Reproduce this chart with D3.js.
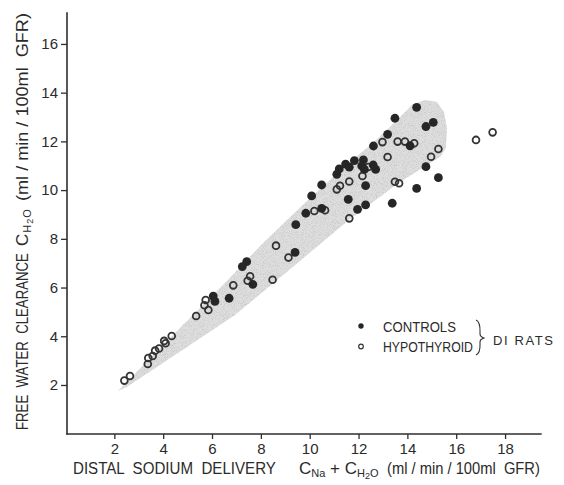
<!DOCTYPE html>
<html>
<head>
<meta charset="utf-8">
<script src="https://cdn.jsdelivr.net/npm/d3@7"></script>
<style>
  html, body { margin: 0; padding: 0; background: #fff; }
  svg { display: block; }
  text { font-family: "Liberation Sans", Arial, sans-serif; fill: #2b2b2b; white-space: pre; }
</style>
</head>
<body>
<svg id="chart" width="564" height="485"></svg>
<script>
// ---- data ----
const xTicks = [2, 4, 6, 8, 10, 12, 14, 16, 18];
const yTicks = [2, 4, 6, 8, 10, 12, 14, 16];

// Controls (filled circles): [distal Na delivery, free water clearance]
const controlsX = [6.05, 6.12, 6.70, 7.42, 7.24, 7.67, 9.40, 9.43, 9.84, 10.08, 10.49, 10.49,
  11.11, 11.21, 11.47, 11.62, 11.83, 12.20, 12.13, 12.24, 12.60, 12.70, 12.29, 11.58, 11.96,
  12.29, 12.61, 13.19, 13.49, 14.11, 14.38, 14.76, 15.06, 14.76, 15.27, 14.38, 13.38];
const controlsY = [5.65, 5.43, 5.56, 7.06, 6.86, 6.13, 7.44, 8.58, 9.05, 9.76, 10.21, 9.25,
  10.65, 10.87, 11.07, 10.94, 11.21, 11.24, 10.99, 10.85, 11.03, 10.85, 10.18, 9.62, 9.21,
  9.39, 11.81, 12.29, 12.95, 11.82, 13.40, 12.61, 12.78, 10.96, 10.51, 10.07, 9.46];

// Hypothyroid (open circles)
const hypoX = [2.41, 2.64, 3.37, 3.39, 3.57, 3.67, 3.83, 4.04, 4.10, 4.35, 5.35, 5.74, 5.69,
  5.85, 6.87, 7.56, 7.46, 8.48, 8.62, 9.13, 10.19, 10.63, 11.11, 11.24, 11.62, 12.16, 12.40,
  11.62, 13.19, 12.98, 13.60, 13.90, 14.28, 13.49, 13.66, 15.27, 14.97, 16.81, 17.49];
const hypoY = [2.18, 2.37, 2.86, 3.11, 3.19, 3.41, 3.50, 3.81, 3.71, 4.01, 4.83, 5.49, 5.27,
  5.08, 6.09, 6.46, 6.28, 6.32, 7.72, 7.23, 9.14, 9.17, 10.03, 10.18, 10.35, 10.58, 10.95,
  8.84, 11.36, 11.97, 11.99, 11.99, 11.92, 10.34, 10.28, 11.69, 11.37, 12.06, 12.37];

// Shaded envelope outline (data units)
const bandX = [2.15, 4.28, 6.53, 8.09, 9.89, 11.24, 12.68, 13.70, 14.19, 14.72, 15.21, 15.50,
  15.62, 15.58, 15.34, 13.70, 11.65, 9.60, 6.94, 4.36, 2.44];
const bandY = [1.75, 3.93, 6.19, 7.83, 9.55, 10.79, 12.02, 13.00, 13.49, 13.70, 13.62, 13.21,
  12.55, 11.73, 11.36, 10.33, 8.81, 7.09, 4.87, 3.15, 1.88];

const legendLabels = ["CONTROLS", "HYPOTHYROID"];
const groupLabel = "DI RATS";

// ---- layout ----
const svg = d3.select("#chart");
const x = d3.scaleLinear().domain([0, 19.5]).range([65.5, 65.5 + 19.5 * 24.42]);
const y = d3.scaleLinear().domain([0, 17.3]).range([433.7, 433.7 - 17.3 * 24.36]);
const axisColor = "#2e2e2e";
const xAxisY = 434, yAxisX = 67;

// speckle texture for the stippled envelope
const defs = svg.append("defs");
const f = defs.append("filter").attr("id", "stipple").attr("x", 0).attr("y", 0)
  .attr("width", 1).attr("height", 1);
f.append("feTurbulence").attr("type", "fractalNoise").attr("baseFrequency", 1.1)
  .attr("numOctaves", 1).attr("seed", 7).attr("result", "noise");
f.append("feColorMatrix").attr("in", "noise").attr("type", "matrix")
  .attr("values", "0 0 0 0 0.55  0 0 0 0 0.55  0 0 0 0 0.55  3.0 0 0 0 -1.4")
  .attr("result", "dots");
f.append("feComposite").attr("in", "dots").attr("in2", "SourceGraphic").attr("operator", "in")
  .attr("result", "clipped");
f.append("feMerge").call(m => { m.append("feMergeNode").attr("in", "SourceGraphic"); m.append("feMergeNode").attr("in", "clipped"); });

const band = bandX.map((v, i) => [v, bandY[i]]);
svg.append("path")
  .attr("d", d3.line().x(d => x(d[0])).y(d => y(d[1])).curve(d3.curveLinearClosed)(band))
  .attr("fill", "#dedede")
  .attr("filter", "url(#stipple)");

// axes
const gx = svg.append("g").attr("transform", `translate(0,${xAxisY})`)
  .call(d3.axisBottom(x).tickValues(xTicks).tickSize(5).tickPadding(4).tickFormat(d3.format("d")));
const gy = svg.append("g").attr("transform", `translate(${yAxisX},0)`)
  .call(d3.axisLeft(y).tickValues(yTicks).tickSize(6).tickPadding(3).tickFormat(d3.format("d")));
[gx, gy].forEach(g => {
  g.select(".domain").remove();
  g.selectAll(".tick line").attr("stroke", axisColor).attr("stroke-width", 1.3);
  g.selectAll(".tick text").style("font-size", "15px").attr("fill", "#333")
    .style("font-family", '"Liberation Sans", Arial, sans-serif');
});
svg.append("line").attr("x1", yAxisX).attr("x2", yAxisX).attr("y1", y(17.3)).attr("y2", xAxisY + 0.6)
  .attr("stroke", axisColor).attr("stroke-width", 1.6);
svg.append("line").attr("x1", yAxisX - 0.8).attr("x2", x(19.5)).attr("y1", xAxisY).attr("y2", xAxisY)
  .attr("stroke", axisColor).attr("stroke-width", 1.6);

// data points
const ctrl = controlsX.map((v, i) => [v, controlsY[i]]);
const hypo = hypoX.map((v, i) => [v, hypoY[i]]);
svg.append("g").selectAll("circle").data(hypo).join("circle")
  .attr("cx", d => x(d[0])).attr("cy", d => y(d[1])).attr("r", 3.4)
  .attr("fill", "none").attr("stroke", "#333").attr("stroke-width", 1.8);
svg.append("g").selectAll("circle").data(ctrl).join("circle")
  .attr("cx", d => x(d[0])).attr("cy", d => y(d[1])).attr("r", 4.4)
  .attr("fill", "#262626");

// axis titles (tall, condensed lettering): fit each plain segment to its width by scaling
const fs = "17px", sub = "11px", sub2 = "9px";
function fitted(parent, x0, y0, len, size, str) {
  const g = parent.append("g");
  const t = g.append("text").attr("x", 0).attr("y", 0).style("font-size", size).text(str);
  const w = t.node().getComputedTextLength();
  g.attr("transform", `translate(${x0},${y0}) scale(${len / w},1)`);
  return t;
}

fitted(svg, 73, 474, 203, fs, "DISTAL  SODIUM  DELIVERY");
const xt2 = svg.append("text").attr("x", 299).attr("y", 474).style("font-size", fs);
xt2.append("tspan").text("C");
xt2.append("tspan").attr("dy", 3).style("font-size", sub).text("Na");
xt2.append("tspan").attr("dy", -3).text(" + C");
xt2.append("tspan").attr("dy", 3).style("font-size", sub).text("H");
xt2.append("tspan").attr("dy", 2).style("font-size", sub2).text("2");
xt2.append("tspan").attr("dy", -2).style("font-size", sub).text("O");
fitted(svg, 387, 474, 153, fs, "(ml / min / 100ml  GFR)");

const yg = svg.append("g").attr("transform", "translate(28,0) rotate(-90)");
fitted(yg, -430, 0, 177, fs, "FREE  WATER  CLEARANCE");
const yt2 = yg.append("text").attr("x", -246).attr("y", 0).style("font-size", fs)
  .style("letter-spacing", "1px");
yt2.append("tspan").text("C");
yt2.append("tspan").attr("dy", 3).style("font-size", sub).text("H");
yt2.append("tspan").attr("dy", 2).style("font-size", sub2).text("2");
yt2.append("tspan").attr("dy", -2).style("font-size", sub).text("O");
fitted(yg, -201, 0, 188, fs, "(ml / min / 100ml  GFR)");

// legend
const lg = svg.append("g");
lg.append("circle").attr("cx", 361).attr("cy", 326).attr("r", 2.7).attr("fill", "#262626");
lg.append("circle").attr("cx", 361).attr("cy", 346.5).attr("r", 2.3).attr("fill", "none")
  .attr("stroke", "#333").attr("stroke-width", 1.2);
fitted(lg, 383, 332, 73, "14px", legendLabels[0]);
fitted(lg, 383, 352, 90, "14px", legendLabels[1]);
lg.append("path").attr("d", "M476,320 C481,322 480,330 480,334 C480,337 482,337 484,338 C482,339 480,339 480,342 C480,346 481,353 476,355")
  .attr("fill", "none").attr("stroke", "#333").attr("stroke-width", 1.1);
lg.append("text").attr("x", 493).attr("y", 345).style("font-size", "13px")
  .style("letter-spacing", "1.6px").text(groupLabel);
</script>
</body>
</html>
